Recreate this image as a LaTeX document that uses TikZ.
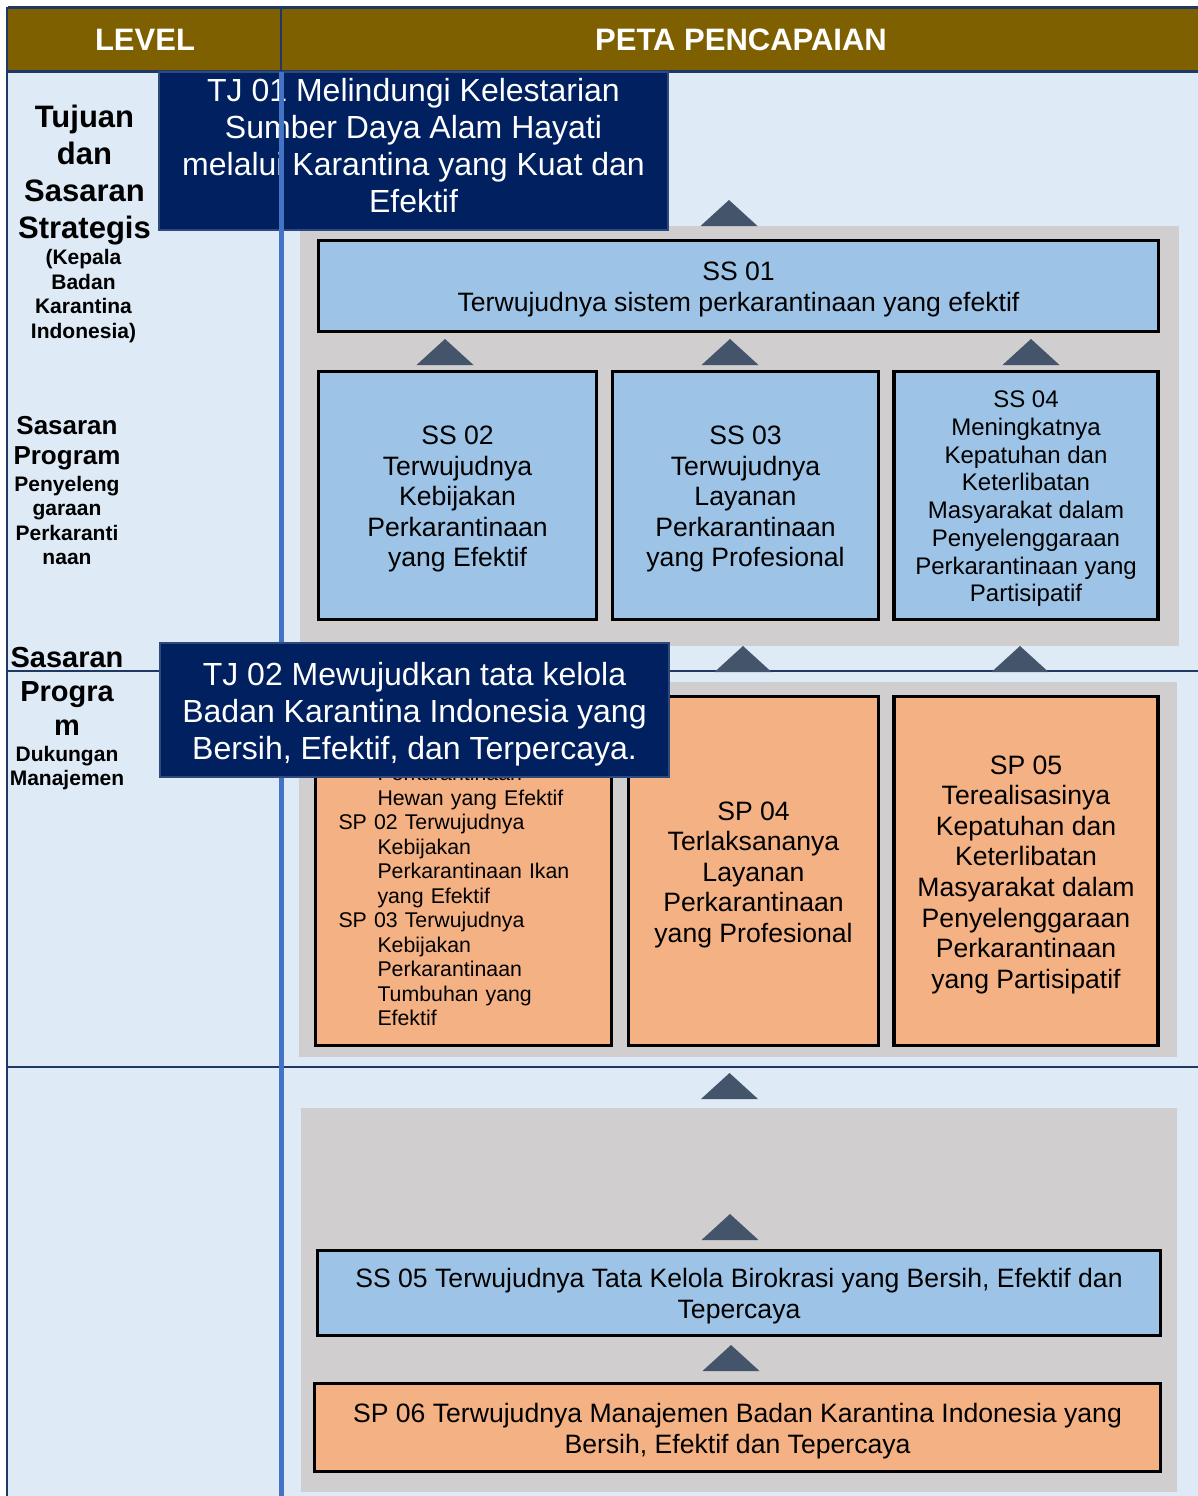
\documentclass[tikz,border=0pt]{standalone}
\usepackage{fontspec}
\setmainfont{Liberation Sans}
\usepackage{tikz}

\definecolor{hdrbrown}{HTML}{7F6000}
\definecolor{hdrnavy}{HTML}{1F3864}
\definecolor{lvlbg}{HTML}{DEEAF6}
\definecolor{colline}{HTML}{4472C4}
\definecolor{tjnavy}{HTML}{002060}
\definecolor{tjedge}{HTML}{2E4A7D}
\definecolor{panelgrey}{HTML}{D0CECE}
\definecolor{trigrey}{HTML}{44546A}
\definecolor{ssblue}{HTML}{9DC3E6}
\definecolor{sporange}{HTML}{F4B183}

% taller first line, as the slides set it
\newcommand\lnup{\rule{0pt}{0.98em}}

\tikzset{
  ssbox/.style={draw=black, line width=3.5pt, fill=ssblue, align=center, inner sep=0pt,
    font=\fontsize{26.6}{30.6}\selectfont},
  spbox/.style={ssbox, fill=sporange},
  tjbox/.style={draw=tjedge, line width=1.5pt, fill=tjnavy, text=white, align=center,
    inner sep=0pt, font=\fontsize{32}{37}\selectfont},
  hdrtext/.style={text=white, inner sep=0pt, font=\bfseries\fontsize{31}{37}\selectfont},
  lvlbig/.style={align=center, inner sep=0pt, font=\bfseries\fontsize{31}{37}\selectfont},
  lvlsmall/.style={align=center, inner sep=0pt, font=\bfseries\fontsize{21}{24.5}\selectfont},
  pics/uptri/.style={code={\fill[trigrey] (-28.5,0) -- (0,-26) -- (28.5,0) -- cycle;}}
}

\begin{document}
\begin{tikzpicture}[x=1pt, y=-1pt]
  \useasboundingbox (0,0) rectangle (1198,1496);
  % Background and header
  \fill[lvlbg] (8,72) rectangle (1198,1496);
  \fill[hdrbrown] (8,8) rectangle (1198,72);
  \draw[hdrnavy, line width=3pt] (8,8) -- (1198,8) (8,72) -- (1198,72);
  \draw[hdrnavy, line width=2pt] (281,8) -- (281,72);
  \draw[hdrnavy, line width=2pt] (7,7) -- (7,1496);
  \node[hdrtext] (lvl) at (145,40) {LEVEL};
  \node[hdrtext] (peta) at (741,40) {PETA PENCAPAIAN};
  % Row dividers
  \draw[hdrnavy, line width=2pt] (8,671) -- (1198,671) (8,1067) -- (1198,1067);
  % Grey panels
  \fill[panelgrey] (300,226) rectangle (1179,646);
  \fill[panelgrey] (299,682) rectangle (1177,1057);
  \fill[panelgrey] (301,1108) rectangle (1177,1492);
  % Up markers
  \foreach \tx/\ty in {729/226, 445/365, 730/365, 1031/365, 743/672, 1020/672,
    729.5/1099, 730/1240, 731/1371}
    \pic at (\tx,\ty) {uptri};
  % Level labels
  \node[lvlbig] (tss) at (84.5,175) {Tujuan\\dan\\Sasaran\\Strategis};
  \node[lvlsmall] (tsssub) at (83.5,296) {(Kepala\\Badan\\Karantina\\Indonesia)};
  \node[lvlbig, font=\bfseries\fontsize{26}{30}\selectfont] (spp) at (67,443) {Sasaran\\Program};
  \node[lvlsmall] (sppsub) at (67,520.5) {Penyeleng\\garaan\\Perkaranti\\naan};
  \node[lvlbig, font=\bfseries\fontsize{29}{34}\selectfont] (spd) at (67,691) {Sasaran\\Progra\\m};
  \node[lvlsmall] (spdsub) at (67,768) {Dukungan\\Manajemen};
  % Sasaran strategis
  \node[ssbox, minimum width=840pt, minimum height=91pt] (ss01) at (738.5,286)
    {\lnup SS 01\\Terwujudnya sistem perkarantinaan yang efektif};
  \node[ssbox, minimum width=278pt, minimum height=248pt] (ss02) at (457.5,495.5)
    {\lnup SS 02\\Terwujudnya\\Kebijakan\\Perkarantinaan\\yang Efektif};
  \node[ssbox, minimum width=266pt, minimum height=248pt] (ss03) at (745.5,495.5)
    {\lnup SS 03\\Terwujudnya\\Layanan\\Perkarantinaan\\yang Profesional};
  \node[ssbox, minimum width=264pt, minimum height=248pt, font=\fontsize{24}{27.7}\selectfont] (ss04) at (1026,495.5)
    {\lnup SS 04\\Meningkatnya\\Kepatuhan dan\\Keterlibatan\\Masyarakat dalam\\Penyelenggaraan\\Perkarantinaan yang\\Partisipatif};
  % Sasaran program
  \node[spbox, minimum width=296pt, minimum height=349pt, text width=250pt, align=left,
    inner xsep=23pt, font=\fontsize{21.3}{24.5}\selectfont] (sp0103) at (463.5,871)
    {SP 01 Terwujudnya\\\hspace*{39pt}Kebijakan\\\hspace*{39pt}Perkarantinaan\\\hspace*{39pt}Hewan yang Efektif\\
     SP 02 Terwujudnya\\\hspace*{39pt}Kebijakan\\\hspace*{39pt}Perkarantinaan Ikan\\\hspace*{39pt}yang Efektif\\
     SP 03 Terwujudnya\\\hspace*{39pt}Kebijakan\\\hspace*{39pt}Perkarantinaan\\\hspace*{39pt}Tumbuhan yang\\\hspace*{39pt}Efektif};
  \node[spbox, minimum width=250pt, minimum height=349pt] (sp04) at (753.5,871)
    {\lnup SP 04\\Terlaksananya\\Layanan\\Perkarantinaan\\yang Profesional};
  \node[spbox, minimum width=264pt, minimum height=349pt] (sp05) at (1026,871)
    {\lnup SP 05\\Terealisasinya\\Kepatuhan dan\\Keterlibatan\\Masyarakat dalam\\Penyelenggaraan\\Perkarantinaan\\yang Partisipatif};
  % Dukungan manajemen
  \node[ssbox, minimum width=843pt, minimum height=85pt] (ss05) at (739,1293)
    {\lnup SS 05 Terwujudnya Tata Kelola Birokrasi yang Bersih, Efektif dan\\Tepercaya};
  \node[spbox, minimum width=846pt, minimum height=88pt] (sp06) at (737.5,1427.5)
    {\lnup SP 06 Terwujudnya Manajemen Badan Karantina Indonesia yang\\Bersih, Efektif dan Tepercaya};
  % Tujuan
  \node[tjbox, minimum width=509pt, minimum height=158pt,
    execute at end node={\rule[-11pt]{0pt}{0pt}}] (tj01) at (413.5,151)
    {TJ 01 Melindungi Kelestarian\\Sumber Daya Alam Hayati\\melalui Karantina yang Kuat dan\\Efektif};
  \draw[colline, line width=5pt] (281.5,72) -- (281.5,1496);
  \node[tjbox, minimum width=509pt, minimum height=134pt] (tj02) at (414.5,710)
    {\lnup TJ 02 Mewujudkan tata kelola\\Badan Karantina Indonesia yang\\Bersih, Efektif, dan Terpercaya.};
\end{tikzpicture}
\end{document}
